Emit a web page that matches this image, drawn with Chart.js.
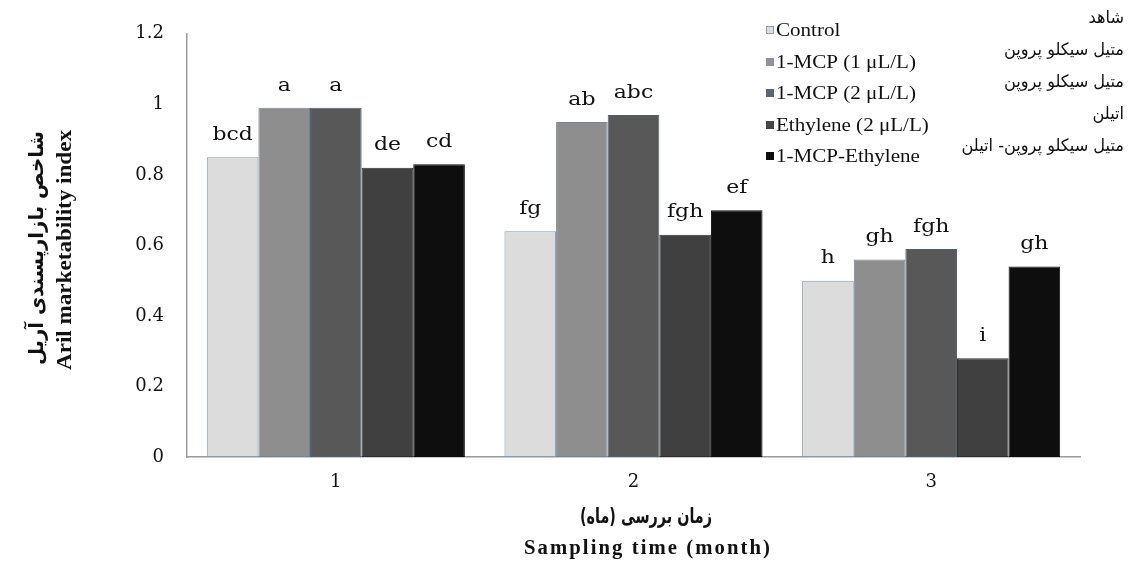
<!DOCTYPE html>
<html>
<head>
<meta charset="utf-8">
<script src="https://cdn.jsdelivr.net/npm/chart.js@4.4.1/dist/chart.umd.min.js"></script>
<style>
  html, body { margin: 0; padding: 0; background: #ffffff; }
  #wrap { width: 1134px; height: 561px; }
</style>
</head>
<body>
<div id="wrap"><canvas id="chart" width="1134" height="561"></canvas></div>
<script>
// Sampling months on the category axis
const months = ['1', '2', '3'];

// Treatment names (English and Persian legend text)
const seriesNames = ['Control', '1-MCP (1 \u03bcL/L)', '1-MCP (2 \u03bcL/L)', 'Ethylene (2 \u03bcL/L)', '1-MCP-Ethylene'];
const seriesNamesFa = ['شاهد', 'متیل سیکلو پروپن', 'متیل سیکلو پروپن', 'اتیلن', 'متیل سیکلو پروپن- اتیلن'];

// Aril marketability index per month
const control     = [0.85, 0.64, 0.50];
const mcp1        = [0.99, 0.95, 0.56];
const mcp2        = [0.99, 0.97, 0.59];
const ethylene    = [0.82, 0.63, 0.28];
const mcpEthylene = [0.83, 0.70, 0.54];

// Mean-separation letters shown above each bar
const lettersControl     = ['bcd', 'fg', 'h'];
const lettersMcp1        = ['a', 'ab', 'gh'];
const lettersMcp2        = ['a', 'abc', 'fgh'];
const lettersEthylene    = ['de', 'fgh', 'i'];
const lettersMcpEthylene = ['cd', 'ef', 'gh'];

// Value-axis tick labels
const yTicks = [0, 0.2, 0.4, 0.6, 0.8, 1, 1.2];

// Fill / edge colours of the five series
const fills   = ['#dcdcdc', '#8e8e8e', '#585858', '#404040', '#0e0e0e'];
const borders = ['#8599b6', '#74839b', '#4f5e72', '#2e2e2e', '#0e0e0e'];
const legendFills = ['#d9dee6', '#8f9299', '#5e6470', '#464646', '#0e0e0e'];

const seriesValues  = [control, mcp1, mcp2, ethylene, mcpEthylene];
const seriesLetters = [lettersControl, lettersMcp1, lettersMcp2, lettersEthylene, lettersMcpEthylene];

const datasets = seriesNames.map((name, i) => ({
  label: name,
  data: seriesValues[i],
  letters: seriesLetters[i],
  backgroundColor: fills[i],
  borderColor: borders[i],
  borderWidth: 1,
  borderSkipped: false
}));

// Draw a string stretched horizontally by a given factor
function drawScaled(ctx, text, x, y, sx, align) {
  ctx.save();
  ctx.translate(x, y);
  ctx.scale(sx, 1);
  ctx.textAlign = align || 'center';
  ctx.fillText(text, 0, 0);
  ctx.restore();
}

// Draw a string fitted to a target width
function drawFitted(ctx, text, x, y, width, align) {
  const w = ctx.measureText(text).width;
  drawScaled(ctx, text, x, y, width / w, align);
}

// Letters above the bars
const letterPlugin = {
  id: 'letters',
  afterDatasetsDraw(chart) {
    const ctx = chart.ctx;
    ctx.save();
    ctx.font = '18px "DejaVu Serif"';
    ctx.fillStyle = '#111';
    ctx.textBaseline = 'middle';
    chart.data.datasets.forEach((ds, di) => {
      const meta = chart.getDatasetMeta(di);
      meta.data.forEach((bar, i) => {
        drawScaled(ctx, ds.letters[i], bar.x, bar.y - 22, 1.22, 'center');
      });
    });
    ctx.restore();
  }
};

// Two-language legend in the upper right
const legendPlugin = {
  id: 'bilingualLegend',
  afterDraw(chart) {
    const ctx = chart.ctx;
    const rowsEn = [30, 62, 93, 125, 156];
    const rowsFa = [19, 51, 83, 115, 147];
    ctx.save();
    ctx.textBaseline = 'middle';
    chart.data.datasets.forEach((ds, i) => {
      const y = rowsEn[i];
      ctx.fillStyle = legendFills[i];
      ctx.fillRect(766, y - 4, 8, 8);
      ctx.strokeStyle = i === 0 ? '#9a9a9a' : legendFills[i];
      ctx.lineWidth = 1;
      ctx.strokeRect(766.5, y - 3.5, 7, 7);
      ctx.fillStyle = '#111';
      ctx.font = '18px "Liberation Serif"';
      drawScaled(ctx, ds.label, 776, y + 1, 1.17, 'left');
    });
    ctx.font = '17px "DejaVu Sans"';
    const ref = ctx.measureText(seriesNamesFa[1]).width;
    const sx = 120 / ref;
    seriesNamesFa.forEach((t, i) => {
      ctx.fillStyle = '#111';
      drawScaled(ctx, t, 1124, rowsFa[i], sx, 'right');
    });
    ctx.restore();
  }
};

// Axis titles in Persian and English
const titlePlugin = {
  id: 'axisTitles',
  afterDraw(chart) {
    const ctx = chart.ctx;
    ctx.save();
    ctx.fillStyle = '#111';
    ctx.textBaseline = 'middle';
    // value axis, rotated
    ctx.save();
    ctx.translate(38, 248);
    ctx.rotate(-Math.PI / 2);
    ctx.font = 'bold 20px "DejaVu Sans"';
    drawFitted(ctx, 'شاخص بازارپسندی آریل', 0, 0, 234, 'center');
    ctx.restore();
    ctx.save();
    ctx.translate(66, 250);
    ctx.rotate(-Math.PI / 2);
    ctx.font = 'bold 21px "Liberation Serif"';
    drawFitted(ctx, 'Aril marketability index', 0, 0, 240, 'center');
    ctx.restore();
    // category axis
    ctx.font = 'bold 21px "DejaVu Sans"';
    drawFitted(ctx, 'زمان بررسی (ماه)', 646, 518, 132, 'center');
    ctx.font = 'bold 20px "Liberation Serif"';
    ctx.letterSpacing = '2px';
    drawFitted(ctx, 'Sampling time (month)', 648, 549, 248, 'center');
    ctx.restore();
  }
};

new Chart(document.getElementById('chart'), {
  type: 'bar',
  data: { labels: months, datasets },
  options: {
    responsive: false,
    animation: false,
    layout: { padding: { top: 33, right: 54, left: 0, bottom: 0 } },
    datasets: { bar: { categoryPercentage: 0.867, barPercentage: 1 } },
    plugins: { legend: { display: false }, tooltip: { enabled: false } },
    scales: {
      x: {
        grid: { display: false, drawTicks: false },
        border: { color: '#9a9a9a', width: 1.5 },
        ticks: { font: { family: 'DejaVu Serif', size: 18 }, color: '#111', padding: 15 },
        afterFit(s) { s.height = 104; }
      },
      y: {
        min: 0,
        max: 1.2,
        afterBuildTicks(s) { s.ticks = yTicks.map(v => ({ value: v })); },
        grid: { display: false, drawTicks: false },
        border: { color: '#9a9a9a', width: 1.5 },
        ticks: {
          font: { family: 'DejaVu Serif', size: 18 },
          color: '#111',
          padding: 23,
          callback: v => String(Number(v.toFixed(1)))
        },
        afterFit(s) { s.width = 187; }
      }
    }
  },
  plugins: [letterPlugin, legendPlugin, titlePlugin]
});
</script>
</body>
</html>
